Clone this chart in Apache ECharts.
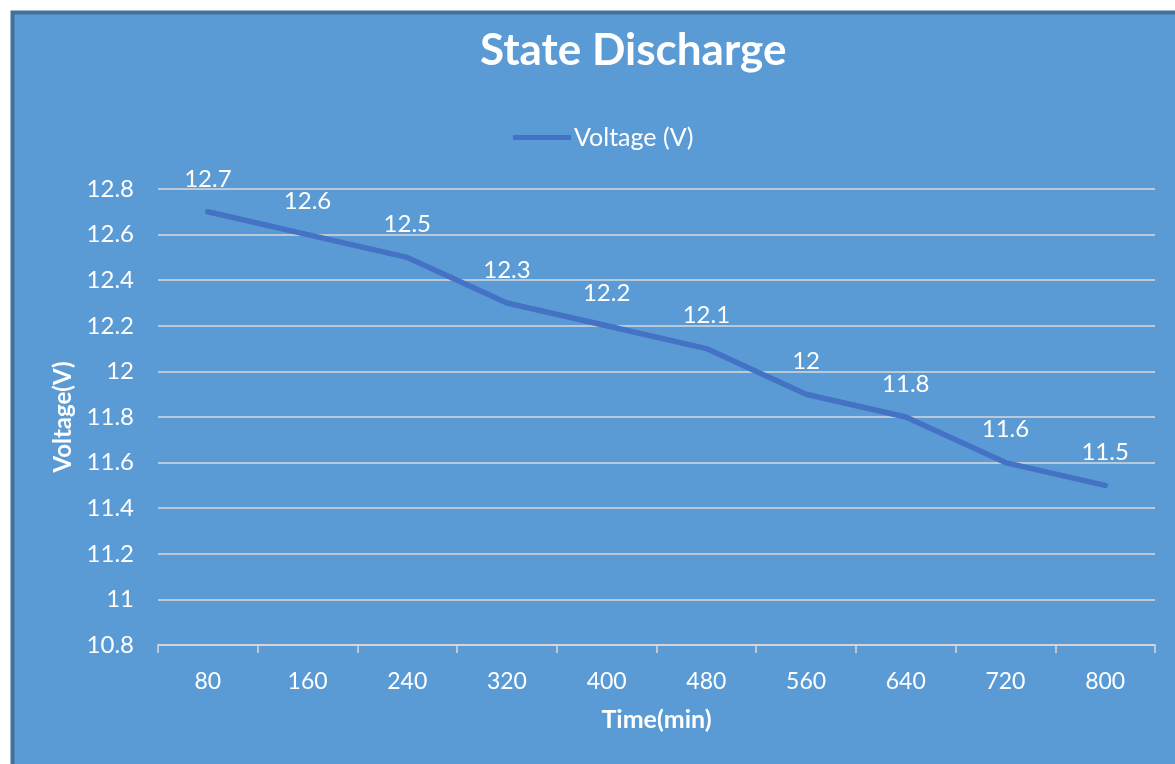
<!DOCTYPE html>
<html>
<head>
<meta charset="utf-8">
<script src="https://cdn.jsdelivr.net/npm/echarts@6/dist/echarts.min.js"></script>
<style>
html, body { margin: 0; padding: 0; background: #fff; }
#chart { width: 1175px; height: 764px; }
</style>
</head>
<body>
<div id="chart"></div>
<script>
var times = ['80', '160', '240', '320', '400', '480', '560', '640', '720', '800'];
var voltage = [12.7, 12.6, 12.5, 12.3, 12.2, 12.1, 11.9, 11.8, 11.6, 11.5];
var pointLabels = ['12.7', '12.6', '12.5', '12.3', '12.2', '12.1', '12', '11.8', '11.6', '11.5'];

var font = 'Lato, "Open Sans", sans-serif';
var chart = echarts.init(document.getElementById('chart'));
var option = {
	backgroundColor: '#fff',
	textStyle: { fontFamily: font },
	graphic: [{
		type: 'rect',
		z: -10,
		shape: { x: 12.5, y: 12.5, width: 1180, height: 770 },
		style: { fill: '#5B9BD5', stroke: '#41719C', lineWidth: 4 }
	}],
	title: {
		text: 'State Discharge',
		left: 475,
		top: 24,
		textStyle: { color: '#fff', fontSize: 44, fontWeight: 'bold', fontFamily: font }
	},
	legend: {
		data: ['Voltage (V)'],
		left: 508,
		top: 120,
		itemWidth: 58,
		itemHeight: 5,
		itemGap: 4,
		icon: 'roundRect',
		textStyle: { color: '#fff', fontSize: 25, fontFamily: font, padding: [0, 0, 0, -2] }
	},
	grid: { left: 158, right: 20, top: 189, bottom: 119 },
	xAxis: {
		type: 'category',
		data: times,
		name: 'Time(min)',
		nameLocation: 'middle',
		nameGap: 62,
		nameTextStyle: { color: '#fff', fontSize: 25, fontWeight: 'bold' },
		axisLine: { lineStyle: { color: '#D9D9D9', width: 1.5 } },
		axisTick: { show: true, length: 8, lineStyle: { color: '#D9D9D9', width: 1.5 } },
		axisLabel: { color: '#fff', fontSize: 23, margin: 25 }
	},
	yAxis: {
		type: 'value',
		min: 10.8,
		max: 12.8,
		interval: 0.2,
		name: 'Voltage(V)',
		nameLocation: 'middle',
		nameGap: 81,
		nameTextStyle: { color: '#fff', fontSize: 24, fontWeight: 'bold' },
		axisLine: { show: false },
		axisTick: { show: false },
		axisLabel: {
			color: '#fff', fontSize: 24, margin: 24,
			formatter: function (v) { return String(Math.round(v * 10) / 10); }
		},
		splitLine: { lineStyle: { color: '#D9D9D9', width: 1.5 } }
	},
	series: [{
		name: 'Voltage (V)',
		type: 'line',
		data: voltage,
		symbol: 'circle',
		symbolSize: 2,
		showSymbol: true,
		lineStyle: { color: '#4472C4', width: 5.5, cap: 'round', join: 'round' },
		itemStyle: { color: '#4472C4' },
		label: {
			show: true,
			position: 'top',
			distance: 20,
			color: '#fff',
			fontSize: 24,
			formatter: function (p) { return pointLabels[p.dataIndex]; }
		}
	}]
};
chart.setOption(option);
</script>
</body>
</html>
